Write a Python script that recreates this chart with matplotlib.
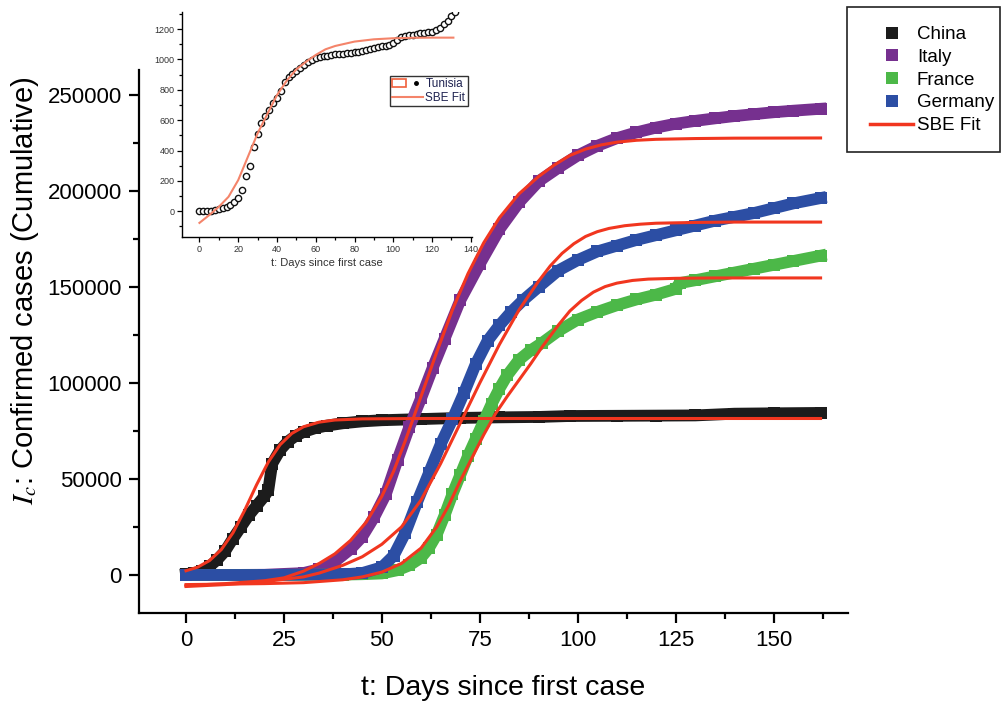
import matplotlib.pyplot as plt
from matplotlib.lines import Line2D
from matplotlib.patches import Rectangle
from matplotlib.legend_handler import HandlerTuple
from matplotlib.ticker import MultipleLocator

plt.rcParams['font.family'] = ['Liberation Sans', 'DejaVu Sans']
plt.rcParams['mathtext.fontset'] = 'stix'

# --- main panel: cumulative confirmed cases ---
china_t = [0, 2, 4, 6, 8, 10, 12, 14, 16, 18, 20, 21, 22, 24, 26, 28, 30, 33, 36, 40, 45, 50,
           60, 70, 80, 90, 98, 110, 120, 130, 140, 150, 162]
china_v = [500, 1000, 2000, 4500, 8000, 12500, 19000, 25000, 31000, 36000, 41000, 44000, 58000,
           65000, 69500, 72500, 74500, 76500, 77800, 79000, 80000, 80600, 81200, 81800, 82100,
           82300, 82800, 82900, 83000, 83100, 84000, 84200, 84400]

italy_t = [0, 10, 20, 30, 34, 38, 42, 45, 48, 51, 54, 57, 60, 63, 66, 70, 75, 80, 85, 90, 95,
           100, 105, 110, 115, 120, 125, 130, 135, 140, 145, 150, 155, 162]
italy_v = [0, 0, 100, 1000, 3000, 7000, 13500, 20000, 30000, 42000, 60000, 77000, 92000, 108000,
           123000, 143000, 162000, 180000, 194000, 205000, 212000, 218500, 223500, 227500, 230500,
           233000, 235000, 236500, 237800, 239000, 240000, 241000, 241800, 242800]

france_t = [0, 20, 40, 45, 50, 54, 57, 60, 62, 64, 66, 68, 70, 72, 74, 76, 78, 80, 82, 85, 88,
            91, 95, 100, 105, 110, 115, 120, 125, 126, 130, 135, 140, 145, 150, 155, 162]
france_v = [0, 0, 200, 400, 800, 2500, 5000, 9000, 14000, 21000, 31000, 42000, 52000, 62000,
            71000, 80000, 89000, 97000, 104000, 112000, 117000, 121000, 127000, 133000, 137000,
            140500, 143500, 146000, 149000, 152000, 153500, 155500, 157500, 159500, 161500,
            163500, 166300]

germany_t = [0, 20, 40, 45, 50, 53, 56, 59, 62, 65, 68, 71, 74, 77, 80, 83, 86, 90, 95, 100, 105,
             110, 115, 120, 125, 130, 135, 140, 145, 150, 155, 162]
germany_v = [0, 0, 300, 1000, 4000, 10000, 22000, 38000, 53000, 68000, 81000, 95000, 110000,
             122000, 130000, 137000, 143000, 150000, 158500, 164000, 168500, 171500, 174500,
             177000, 179500, 182000, 184500, 186500, 188500, 191000, 193500, 196300]

# SBE fits
china_fit_t = [0, 3, 6, 9, 12, 15, 18, 21, 24, 27, 30, 34, 38, 45, 60, 90, 120, 162]
china_fit_v = [2200, 4100, 7500, 13200, 22000, 33800, 46900, 58800, 67800, 73700, 77200, 79600,
               80700, 81300, 81500, 81500, 81500, 81500]

italy_fit_t = [0, 10, 20, 25, 30, 34, 38, 42, 46, 50, 53, 56, 60, 64, 68, 72, 76, 80, 85, 90, 94,
               98, 102, 106, 110, 115, 120, 130, 140, 162]
italy_fit_v = [-5500, -4500, -3000, -1500, 2000, 6000, 11000, 18000, 27500, 41000, 54000, 70000,
               93000, 116000, 138000, 157000, 173000, 186000, 198500, 207500, 213500, 218500,
               221800, 224000, 225400, 226400, 226900, 227300, 227500, 227600]

france_fit_t = [0, 20, 30, 40, 45, 50, 55, 60, 64, 67, 70, 73, 76, 79, 82, 85, 88, 91, 95, 98,
                101, 104, 107, 110, 114, 118, 125, 135, 162]
france_fit_v = [-5000, -4500, -4000, -2500, -1000, 1500, 6000, 14000, 25000, 36000, 49000, 61000,
                73000, 84000, 93000, 101500, 110000, 119000, 130000, 137500, 143000, 147300,
                150200, 152000, 153400, 154100, 154500, 154700, 154700]

germany_fit_t = [0, 10, 20, 30, 34, 40, 45, 50, 55, 60, 65, 70, 75, 80, 85, 90, 93, 96, 99, 102,
                 105, 108, 112, 116, 120, 130, 140, 162]
germany_fit_v = [-6000, -5000, -3500, -1000, 1000, 5000, 9500, 16000, 25000, 39000, 58000, 79000,
                 100000, 120000, 138000, 153000, 161000, 167500, 172500, 176300, 178800, 180500,
                 181900, 182700, 183200, 183600, 183800, 183800]

# --- inset: Tunisia ---
tun_t = [0, 2, 4, 6, 8, 10, 12, 14, 16, 18, 20, 22, 24, 26, 28, 30, 32, 34, 36, 38, 40, 42, 44,
         46, 48, 50, 52, 54, 56, 58, 60, 62, 64, 66, 68, 70, 72, 74, 76, 78, 80, 82, 84, 86, 88,
         90, 92, 94, 96, 98, 100, 102, 104, 106, 108, 110, 112, 114, 116, 118, 120, 122, 124,
         126, 128, 130, 132]
tun_v = [0, 0, 2, 4, 8, 14, 18, 26, 40, 60, 88, 140, 230, 300, 420, 510, 580, 630, 670, 715,
         745, 790, 850, 885, 905, 925, 945, 965, 982, 998, 1010, 1018, 1022, 1026, 1030, 1033,
         1036, 1038, 1041, 1044, 1047, 1050, 1056, 1064, 1070, 1076, 1082, 1086, 1090, 1096,
         1108, 1130, 1148, 1156, 1160, 1164, 1170, 1174, 1176, 1180, 1184, 1196, 1210, 1232,
         1255, 1285, 1310]
tun_fit_t = [0, 5, 10, 15, 20, 25, 30, 35, 40, 45, 50, 55, 60, 65, 70, 80, 90, 100, 110, 120, 131]
tun_fit_v = [-77, -26, 29, 95, 205, 359, 513, 640, 765, 860, 935, 985, 1030, 1067, 1089, 1118,
             1133, 1140, 1143, 1144, 1144]

countries = ['China', 'Italy', 'France', 'Germany']
colors = {'China': '#1c1c1c', 'Italy': '#76308f', 'France': '#4cb848', 'Germany': '#2c4ea4'}
red = '#f1361f'

fig = plt.figure(figsize=(10.03, 7.01), dpi=100)
ax = fig.add_axes([139/1003, 88/701, 709/1003, 543/701])

series = [(china_t, china_v, 'China'), (italy_t, italy_v, 'Italy'),
          (france_t, france_v, 'France'), (germany_t, germany_v, 'Germany')]
for t, v, name in series:
    ax.plot(t, v, color=colors[name], lw=8.5, marker='s', ms=8.5, mew=0)

for t, v in [(china_fit_t, china_fit_v), (italy_fit_t, italy_fit_v),
             (france_fit_t, france_fit_v), (germany_fit_t, germany_fit_v)]:
    ax.plot(t, v, color=red, lw=2.2)

ax.set_xlim(-12, 169)
ax.set_ylim(-19800, 263000)
ax.spines['top'].set_visible(False)
ax.spines['right'].set_visible(False)
for s in ['left', 'bottom']:
    ax.spines[s].set_linewidth(1.6)
ax.xaxis.set_major_locator(MultipleLocator(25))
ax.xaxis.set_minor_locator(MultipleLocator(12.5))
ax.yaxis.set_major_locator(MultipleLocator(50000))
ax.yaxis.set_minor_locator(MultipleLocator(25000))
ax.tick_params(which='major', direction='out', length=7.5, width=1.6, labelsize=16, pad=5)
ax.tick_params(which='minor', direction='out', length=4.5, width=1.6)

fig.text(503/1003, 1 - 688/701, 't: Days since first case', fontsize=20.5, ha='center', va='center')
fig.text(25/1003, 1 - 291/701, r'$I_c$: Confirmed cases (Cumulative)', fontsize=21,
         rotation=90, ha='center', va='center')

# legend for main panel
handles = [Line2D([], [], ls='none', marker='s', ms=8.5, mew=0, color=colors[c]) for c in countries]
handles.append(Line2D([], [], color=red, lw=2.5))
fig.legend(handles, countries + ['SBE Fit'], loc='upper left',
           bbox_to_anchor=(870/1003, 1 - 26/701), frameon=False, fontsize=13.5,
           handlelength=2.3, handletextpad=0.2, labelspacing=0.3, borderpad=0, borderaxespad=0)
fig.add_artist(Rectangle((847/1003, 1 - 152/701), 153/1003, 145/701, transform=fig.transFigure,
                         fill=False, ec='#222222', lw=1.2))

# inset
axin = fig.add_axes([182/1003, (701 - 237)/701, 290/1003, 225/701])
axin.plot(tun_t, tun_v, ls='none', marker='o', ms=4.5, mfc='white', mec='#111111', mew=1.0)
axin.plot(tun_fit_t, tun_fit_v, color='#f4846a', lw=1.5)
axin.set_xlim(-9, 140.6)
axin.set_ylim(-170, 1313)
axin.spines['top'].set_visible(False)
axin.spines['right'].set_visible(False)
for s in ['left', 'bottom']:
    axin.spines[s].set_linewidth(1.0)
axin.xaxis.set_major_locator(MultipleLocator(20))
axin.xaxis.set_minor_locator(MultipleLocator(10))
axin.yaxis.set_major_locator(MultipleLocator(200))
axin.yaxis.set_minor_locator(MultipleLocator(100))
axin.tick_params(which='major', direction='out', length=3.5, width=0.9, labelsize=6.5,
                 labelcolor='#333333', pad=2)
axin.tick_params(which='minor', direction='out', length=2, width=0.9)
axin.set_xlabel('t: Days since first case', fontsize=8, color='#333333', labelpad=3)

tun_handle = (Rectangle((0, 0), 1, 1, fill=False, ec='#f0603c', lw=1.2),
              Line2D([], [], ls='none', marker='o', ms=2.5, color='k'))
fit_handle = Line2D([], [], color='#f4846a', lw=1.5)
leg = axin.legend([tun_handle, fit_handle], ['Tunisia', 'SBE Fit'],
                  handler_map={tuple: HandlerTuple(ndivide=None)}, loc='upper left',
                  bbox_to_anchor=(0.717, 0.716), fontsize=8.5, fancybox=False, edgecolor='k',
                  borderpad=0.2, labelspacing=0.15, handlelength=2.6, handletextpad=0.2,
                  borderaxespad=0)
leg.get_frame().set_linewidth(1.0)
for txt in leg.get_texts():
    txt.set_color('#1e2250')

fig.savefig('out.png', dpi=100)
